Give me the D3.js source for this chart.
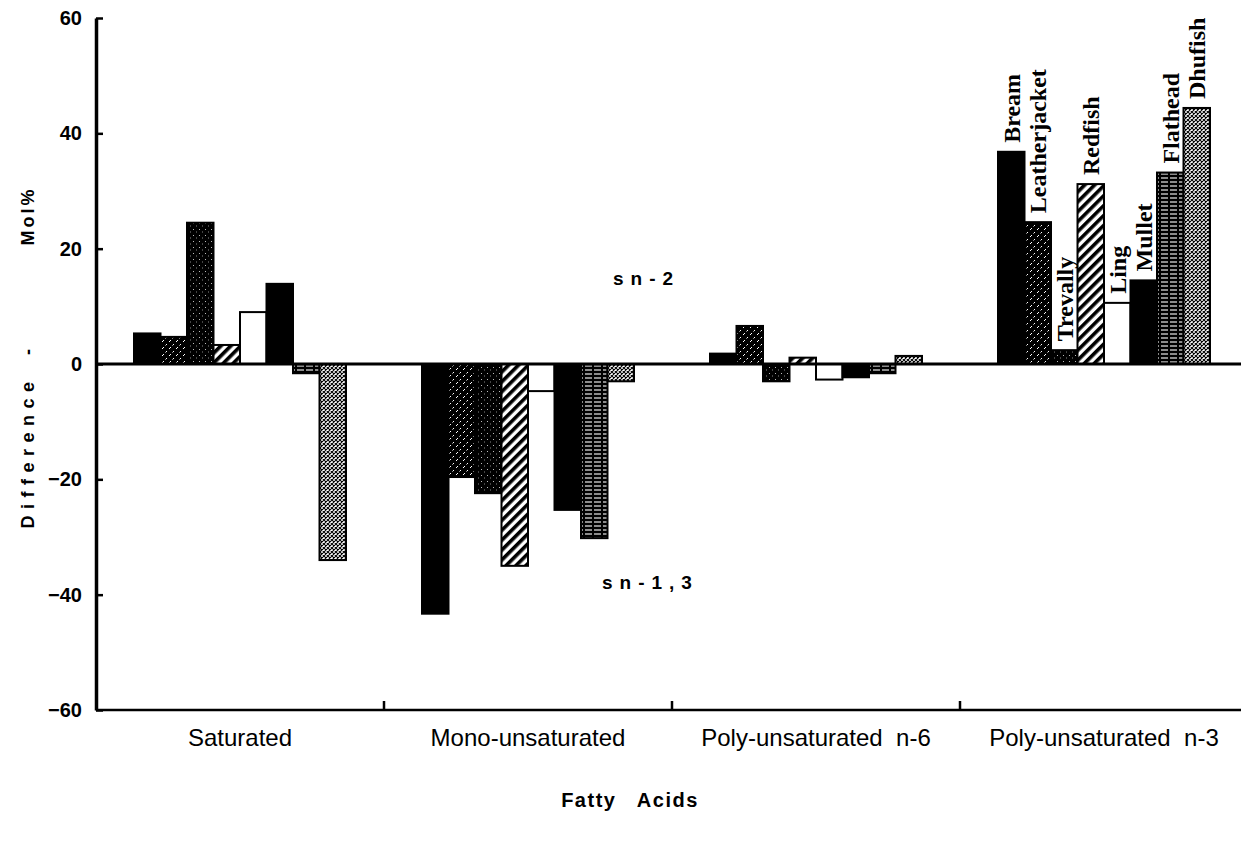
<!DOCTYPE html>
<meta charset="utf-8">
<style>
body { margin: 0; background: #fff; }
.chart text { fill: #000; }
.chart .tick line { stroke: #000; stroke-width: 2.5; }
.chart .domain { stroke: #000; }
.chart .bar { stroke: #000; stroke-width: 2; }
.chart .ytick text { font: bold 20px "Liberation Sans", Arial, sans-serif; }
.chart .xtick text { font: 24px "Liberation Sans", Arial, sans-serif; }
.chart .species { font: bold 24px "Liberation Serif", "Times New Roman", serif; }
.chart .note { font: bold 19px "Liberation Sans", Arial, sans-serif; letter-spacing: 7px; }
.chart .title { font: bold 18px "Liberation Sans", Arial, sans-serif; white-space: pre; }
</style>
<body>
<svg class="chart js-chart"></svg>

<script src="https://cdn.jsdelivr.net/npm/d3@7"></script>
<script type="text/javascript">
"use strict";

var categories = ["Saturated", "Mono-unsaturated", "Poly-unsaturated  n-6", "Poly-unsaturated  n-3"];
var species = ["Bream", "Leatherjacket", "Trevally", "Redfish", "Ling", "Mullet", "Flathead", "Dhufish"];

// difference (sn-2 minus sn-1,3), one value per category
var bream         = [5.3, -43.3, 1.8, 36.8];
var leatherjacket = [4.7, -19.6, 6.6, 24.6];
var trevally      = [24.5, -22.4, -3.0, 2.4];
var redfish       = [3.3, -35.0, 1.1, 31.2];
var ling          = [9.0, -4.7, -2.7, 10.6];
var mullet        = [13.9, -25.3, -2.3, 14.5];
var flathead      = [-1.6, -30.2, -1.6, 33.2];
var dhufish       = [-34.0, -3.0, 1.4, 44.4];

var yTicks = [-60, -40, -20, 0, 20, 40, 60];

var seriesValues = [bream, leatherjacket, trevally, redfish, ling, mullet, flathead, dhufish];
var labelledCategory = "Poly-unsaturated  n-3";

var width = 1241,
    height = 849,
    plotLeft = 96,
    plotRight = 1248,
    yTop = 18,
    yBottom = 710;

var svg = d3.select(".js-chart")
    .attr("width", width)
    .attr("height", height);

var defs = svg.append("defs");

// fill patterns imitating the printed hatching
var pLeather = defs.append("pattern").attr("id", "p-leather")
    .attr("patternUnits", "userSpaceOnUse").attr("width", 7).attr("height", 7);
pLeather.append("rect").attr("width", 7).attr("height", 7).attr("fill", "#000");
pLeather.append("path").attr("d", "M1,6 L3,4 M4.5,2.5 L6,1").attr("stroke", "#fff").attr("stroke-width", 1);

var pTrevally = defs.append("pattern").attr("id", "p-trevally")
    .attr("patternUnits", "userSpaceOnUse").attr("width", 6).attr("height", 6);
pTrevally.append("rect").attr("width", 6).attr("height", 6).attr("fill", "#000");
pTrevally.append("rect").attr("x", 1).attr("y", 1).attr("width", 1).attr("height", 1).attr("fill", "#bbb");
pTrevally.append("rect").attr("x", 4).attr("y", 3.5).attr("width", 1).attr("height", 1).attr("fill", "#888");

var pRed = defs.append("pattern").attr("id", "p-redfish")
    .attr("patternUnits", "userSpaceOnUse").attr("width", 7).attr("height", 7)
    .attr("patternTransform", "rotate(45)");
pRed.append("rect").attr("width", 7).attr("height", 7).attr("fill", "#fff");
pRed.append("rect").attr("width", 3.6).attr("height", 7).attr("fill", "#000");

var pFlat = defs.append("pattern").attr("id", "p-flathead")
    .attr("patternUnits", "userSpaceOnUse").attr("width", 9).attr("height", 4);
pFlat.append("rect").attr("width", 9).attr("height", 4).attr("fill", "#000");
pFlat.append("line").attr("x1", 0).attr("x2", 7).attr("y1", 2).attr("y2", 2)
    .attr("stroke", "#fff").attr("stroke-width", 1.1);

var pDhu = defs.append("pattern").attr("id", "p-dhufish")
    .attr("patternUnits", "userSpaceOnUse").attr("width", 4).attr("height", 4);
pDhu.append("rect").attr("width", 4).attr("height", 4).attr("fill", "#fff");
pDhu.append("path").attr("d", "M0,0 L4,4 M4,0 L0,4").attr("stroke", "#000").attr("stroke-width", 1.05);

var fills = {
    "Bream": "#000",
    "Leatherjacket": "url(#p-leather)",
    "Trevally": "url(#p-trevally)",
    "Redfish": "url(#p-redfish)",
    "Ling": "#fff",
    "Mullet": "#000",
    "Flathead": "url(#p-flathead)",
    "Dhufish": "url(#p-dhufish)"
};

var x0 = d3.scaleBand().domain(categories).range([plotLeft, plotRight]);
var groupPad = (x0.bandwidth() - 212) / 2;
var x1 = d3.scaleBand().domain(species).range([groupPad, x0.bandwidth() - groupPad]);
var y = d3.scaleLinear().domain([-60, 60]).range([yBottom, yTop]);

var rows = [];
categories.forEach(function(c, ci) {
    species.forEach(function(s, si) {
        rows.push({ category: c, species: s, value: seriesValues[si][ci] });
    });
});

// bars
svg.append("g").selectAll("rect")
    .data(rows)
    .join("rect")
    .attr("class", "bar")
    .attr("x", function(d) { return x0(d.category) + x1(d.species); })
    .attr("width", x1.bandwidth())
    .attr("y", function(d) { return y(Math.max(0, d.value)); })
    .attr("height", function(d) { return Math.abs(y(d.value) - y(0)); })
    .attr("fill", function(d) { return fills[d.species]; });

// zero line
svg.append("line")
    .attr("x1", plotLeft).attr("x2", width)
    .attr("y1", y(0)).attr("y2", y(0))
    .attr("stroke", "#000").attr("stroke-width", 3);

// y axis, ticks pointing into the plot
var yAxis = svg.append("g")
    .attr("class", "ytick")
    .attr("transform", "translate(" + plotLeft + ",0)")
    .call(d3.axisLeft(y).tickValues(yTicks).tickSizeInner(-7).tickSizeOuter(0).tickPadding(14));
yAxis.select(".domain").attr("stroke-width", 3.5);

// x axis with category labels
var xAxis = svg.append("g")
    .attr("class", "xtick")
    .attr("transform", "translate(0," + yBottom + ")")
    .call(d3.axisBottom(x0).tickSize(0).tickPadding(19));
xAxis.select(".domain").attr("d", "M" + plotLeft + ",0H" + width).attr("stroke-width", 2.5);
xAxis.selectAll("text").style("white-space", "pre");

// group separators on the x axis
svg.append("g").selectAll("line")
    .data(categories.slice(1))
    .join("line")
    .attr("x1", function(d) { return x0(d); })
    .attr("x2", function(d) { return x0(d); })
    .attr("y1", yBottom)
    .attr("y2", yBottom - 9)
    .attr("stroke", "#000").attr("stroke-width", 2.5);

// species names above the n-3 bars
svg.append("g").selectAll("text")
    .data(rows.filter(function(d) { return d.category === labelledCategory; }))
    .join("text")
    .attr("class", "species")
    .attr("transform", function(d) {
        var cx = x0(d.category) + x1(d.species) + x1.bandwidth() / 2;
        return "translate(" + cx + "," + (y(d.value) - 9) + ") rotate(-90)";
    })
    .attr("dy", "0.35em")
    .text(function(d) { return d.species; });

svg.append("text").attr("class", "note")
    .attr("x", 613).attr("y", 285).text("sn-2");
svg.append("text").attr("class", "note")
    .attr("x", 602).attr("y", 589).text("sn-1,3");

// axis titles
svg.append("text").attr("class", "title")
    .attr("x", 630).attr("y", 807)
    .attr("text-anchor", "middle")
    .style("font-size", "20px")
    .style("letter-spacing", "1.5px")
    .text("Fatty   Acids");

var yTitle = svg.append("g").attr("class", "title")
    .attr("transform", "translate(28,0) rotate(-90)");
yTitle.append("text").attr("x", -452).attr("dy", "0.35em").attr("text-anchor", "middle")
    .style("letter-spacing", "6.5px").text("Difference");
yTitle.append("text").attr("x", -352).attr("dy", "0.35em").attr("text-anchor", "middle")
    .text("-");
yTitle.append("text").attr("x", -216).attr("dy", "0.35em").attr("text-anchor", "middle")
    .style("letter-spacing", "3px").text("Mol%");
</script>
</body>
